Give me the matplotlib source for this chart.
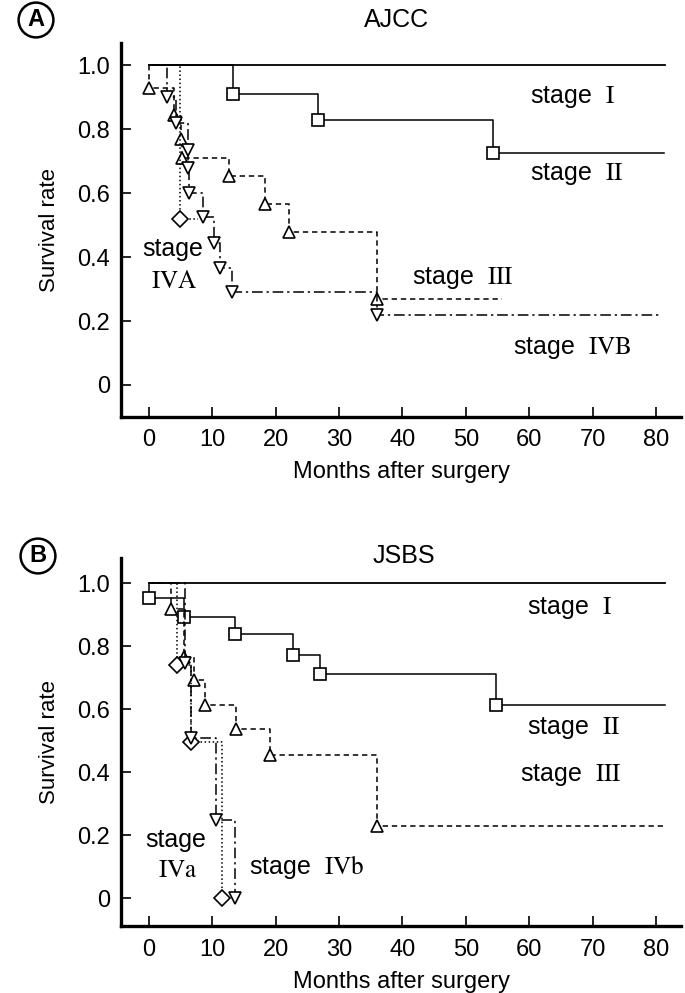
import matplotlib
matplotlib.use('Agg')
import matplotlib.pyplot as plt

plt.rcParams['font.family'] = ['Liberation Sans', 'DejaVu Sans']
plt.rcParams['mathtext.fontset'] = 'stix'

# A: AJCC  (event months, survival at each event, last month of follow-up)
a_st1_end = 81.5
a_st2_t = [13.3, 26.7, 54.3]
a_st2_s = [0.91, 0.83, 0.725]
a_st2_end = 81.3
a_st3_t = [0.0, 4.0, 5.1, 5.3, 12.7, 18.3, 22.1, 36.0]
a_st3_s = [0.93, 0.845, 0.77, 0.71, 0.655, 0.565, 0.48, 0.27]
a_st3_end = 55.7
a_st4a_t = [4.9]
a_st4a_s = [0.52]
a_st4a_end = 7.8
a_st4b_t = [2.9, 4.3, 6.1, 6.2, 6.3, 8.6, 10.2, 11.3, 13.1, 36.0]
a_st4b_s = [0.90, 0.82, 0.735, 0.68, 0.60, 0.525, 0.445, 0.365, 0.29, 0.22]
a_st4b_end = 80.9

# B: JSBS
b_st1_end = 81.4
b_st2_t = [0.0, 5.5, 13.6, 22.7, 27.0, 54.7]
b_st2_s = [0.952, 0.892, 0.838, 0.771, 0.711, 0.613]
b_st2_end = 81.4
b_st3_t = [3.5, 5.5, 7.1, 8.8, 13.7, 19.1, 36.0]
b_st3_s = [0.917, 0.765, 0.692, 0.613, 0.537, 0.454, 0.229]
b_st3_end = 81.4
b_st4a_t = [4.4, 6.6, 11.5]
b_st4a_s = [0.74, 0.495, 0.0]
b_st4b_t = [5.7, 6.6, 10.6, 13.6]
b_st4b_s = [0.746, 0.51, 0.248, 0.0]

x_ticks = [0, 10, 20, 30, 40, 50, 60, 70, 80]
y_ticks = [0, 0.2, 0.4, 0.6, 0.8, 1.0]
y_ticklabels = ['0', '0.2', '0.4', '0.6', '0.8', '1.0']


def km(ax, t, s, end, ls, marker, ms=9):
    # step curve starting at 1.0, markers on each drop
    xs = [0.0] + list(t) + ([end] if end is not None else [])
    ys = [1.0] + list(s) + ([s[-1]] if end is not None else [])
    ax.step(xs, ys, where='post', color='black', lw=1.1, ls=ls)
    if marker:
        ax.plot(t, s, ls='none', marker=marker, ms=ms, mfc='white',
                mec='black', mew=1.2)


def setup(ax, bottom, top):
    ax.set_xlim(-4.4, 84)
    ax.set_ylim(bottom, top)
    for side in ['top', 'right']:
        ax.spines[side].set_visible(False)
    for side in ['left', 'bottom']:
        ax.spines[side].set_linewidth(2.4)
    ax.set_xticks(x_ticks)
    ax.set_yticks(y_ticks)
    ax.set_yticklabels(y_ticklabels)
    ax.tick_params(direction='in', length=7, width=1.2, labelsize=17)
    ax.tick_params(axis='x', pad=9)
    ax.tick_params(axis='y', pad=8)
    ax.set_xlabel('Months after surgery', fontsize=17, labelpad=7)
    ax.set_ylabel('Survival rate', fontsize=16, labelpad=12)


dash = (0, (3.5, 2.5))
dashdot = (0, (7, 2.5, 1.5, 2.5))

fig = plt.figure(figsize=(6.85, 9.93), dpi=100)

# ---- panel A
ax = fig.add_axes([0.1766, 0.5805, 0.818, 0.3762])
ax.plot([0, a_st1_end], [1.0, 1.0], color='black', lw=1.3)
km(ax, a_st2_t, a_st2_s, a_st2_end, '-', 's')
km(ax, a_st3_t, a_st3_s, a_st3_end, dash, '^')
km(ax, a_st4a_t, a_st4a_s, a_st4a_end, ':', 'D', ms=8)
km(ax, a_st4b_t, a_st4b_s, a_st4b_end, dashdot, 'v')
setup(ax, -0.099, 1.07)
lab = dict(fontsize=18, va='center')
ax.text(60.2, 0.90, r'stage  $\mathrm{I}$', **lab)
ax.text(60.1, 0.66, r'stage  $\mathrm{II}$', **lab)
ax.text(41.5, 0.335, r'stage  $\mathrm{III}$', **lab)
ax.text(57.5, 0.115, r'stage  $\mathrm{IVB}$', **lab)
ax.text(3.7, 0.425, 'stage', ha='center', **lab)
ax.text(4.0, 0.325, r'$\mathrm{IVA}$', ha='center', **lab)

# ---- panel B
ax = fig.add_axes([0.1766, 0.067, 0.818, 0.371])
ax.plot([0, b_st1_end], [1.0, 1.0], color='black', lw=1.3)
km(ax, b_st2_t, b_st2_s, b_st2_end, '-', 's')
km(ax, b_st3_t, b_st3_s, b_st3_end, dash, '^')
km(ax, b_st4a_t, b_st4a_s, None, ':', 'D', ms=8)
km(ax, b_st4b_t, b_st4b_s, None, dashdot, 'v')
setup(ax, -0.09, 1.08)
ax.text(59.7, 0.92, r'stage  $\mathrm{I}$', **lab)
ax.text(59.7, 0.54, r'stage  $\mathrm{II}$', **lab)
ax.text(58.5, 0.39, r'stage  $\mathrm{III}$', **lab)
ax.text(4.3, 0.185, 'stage', ha='center', **lab)
ax.text(4.6, 0.09, r'$\mathrm{IVa}$', ha='center', **lab)
ax.text(15.8, 0.10, r'stage  $\mathrm{IVb}$', **lab)

# titles and panel letters
fig.text(397 / 685, 1 - 20 / 993, 'AJCC', fontsize=18, ha='center', va='center')
fig.text(404 / 685, 1 - 556 / 993, 'JSBS', fontsize=18, ha='center', va='center')
circ = dict(boxstyle='circle,pad=0.25', fc='white', ec='black', lw=1.8)
fig.text(36 / 685, 1 - 20 / 993, 'A', fontsize=17, fontweight='bold',
         ha='center', va='center', bbox=circ)
fig.text(38 / 685, 1 - 556 / 993, 'B', fontsize=17, fontweight='bold',
         ha='center', va='center', bbox=circ)

fig.savefig('out.png', dpi=100)
